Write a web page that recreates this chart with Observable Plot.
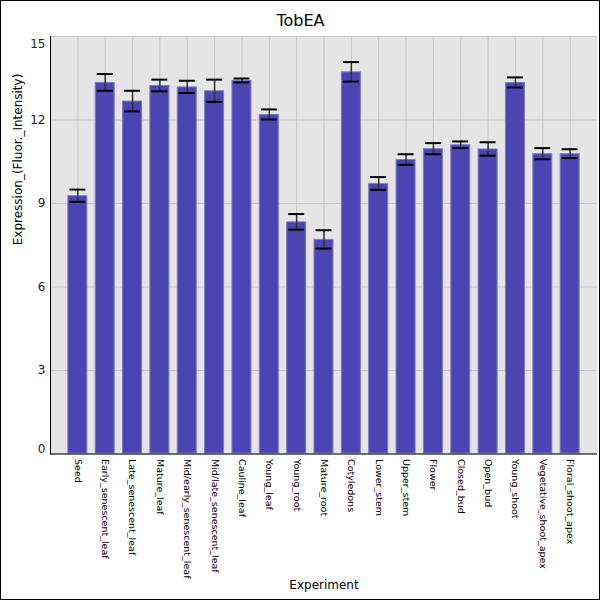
<!DOCTYPE html>
<html>
<head>
<meta charset="utf-8">
<script src="https://cdn.jsdelivr.net/npm/d3@7"></script>
<script src="https://cdn.jsdelivr.net/npm/@observablehq/plot@0.6"></script>
<style>
  html, body { margin: 0; padding: 0; background: #fff; }
  #wrap { position: relative; width: 600px; height: 600px; }
  #border { position: absolute; left: 0; top: 0; width: 600px; height: 600px; box-sizing: border-box; border: 1px solid #000; pointer-events: none; }
</style>
</head>
<body>
<div id="wrap"><div id="chart"></div><div id="border"></div></div>
<script>
const categories = ["Seed","Early_senescent_leaf","Late_senescent_leaf","Mature_leaf","Mid/early_senescent_leaf","Mid/late_senescent_leaf","Cauline_leaf","Young_leaf","Young_root","Mature_root","Cotyledons","Lower_stem","Upper_stem","Flower","Closed_bud","Open_bud","Young_shoot","Vegetative_shoot_apex","Floral_shoot_apex"];
const values = [9.28, 13.35, 12.68, 13.24, 13.19, 13.05, 13.42, 12.20, 8.34, 7.71, 13.73, 9.72, 10.58, 10.97, 11.11, 10.96, 13.35, 10.79, 10.79];
const errors = [0.22, 0.30, 0.37, 0.21, 0.22, 0.40, 0.07, 0.18, 0.28, 0.33, 0.35, 0.23, 0.19, 0.20, 0.12, 0.24, 0.18, 0.20, 0.16];
const yTicks = [0, 3, 6, 9, 12, 15];
const title = "TobEA";
const xTitle = "Experiment";
const yTitle = "Expression_(Fluor._Intensity)";

const data = categories.map((c, i) => ({cat: c, v: values[i], lo: values[i] - errors[i], hi: values[i] + errors[i]}));

const font = "DejaVu Sans, sans-serif";
const chart = Plot.plot({
  width: 600,
  height: 600,
  marginLeft: 50,
  marginRight: 3,
  marginTop: 36,
  marginBottom: 146.5,
  style: {fontFamily: font, background: "transparent", overflow: "visible"},
  x: {domain: categories, paddingInner: 0.269, paddingOuter: 0.634, round: false, axis: null},
  y: {domain: [0, 15], axis: null},
  marks: [
    Plot.frame({fill: "#e5e5e5", stroke: "none"}),
    Plot.gridY(yTicks, {stroke: "#c6c6c6", strokeOpacity: 1, strokeWidth: 1}),
    Plot.gridX(categories, {stroke: "#c6c6c6", strokeOpacity: 1, strokeWidth: 1}),
    Plot.barY(data, {x: "cat", y: "v", fill: "#4a45b2", stroke: "#7e7ac9", strokeWidth: 1, inset: 0.5}),
    Plot.ruleX(data, {x: "cat", y1: "lo", y2: "hi", stroke: "#333", strokeWidth: 1.5}),
    Plot.tickY(data, {x: "cat", y: "hi", stroke: "#000", strokeWidth: 2, insetLeft: 2, insetRight: 2}),
    Plot.tickY(data, {x: "cat", y: "lo", stroke: "#000", strokeWidth: 2, insetLeft: 2, insetRight: 2}),
    Plot.ruleY([0], {stroke: "#000", strokeWidth: 1}),
    Plot.frame({anchor: "left", stroke: "#000", strokeWidth: 1}),
    Plot.axisY(yTicks.filter(t => t > 0 && t < 15), {tickSize: 0, tickPadding: 5, fontSize: 12, fill: "#222", label: null}),
    Plot.axisY([15], {tickSize: 0, tickPadding: 5, fontSize: 12, fill: "#222", dy: 8, label: null}),
    Plot.axisY([0], {tickSize: 0, tickPadding: 5, fontSize: 12, fill: "#222", dy: -5, label: null}),
    Plot.axisX(categories, {tickSize: 0, tickPadding: 5, tickRotate: 90, fontSize: 9.5, fill: "#000", label: null}),
    Plot.text([title], {frameAnchor: "top", dx: -23.5, dy: -16, fontSize: 16, fill: "#000", lineAnchor: "middle"}),
    Plot.text([xTitle], {frameAnchor: "bottom", dy: 131.5, fontSize: 12, fill: "#000", lineAnchor: "middle"}),
    Plot.text([yTitle], {frameAnchor: "left", dx: -32, rotate: -90, fontSize: 12, fill: "#000", lineAnchor: "middle"})
  ]
});
document.getElementById("chart").appendChild(chart);
</script>
</body>
</html>
